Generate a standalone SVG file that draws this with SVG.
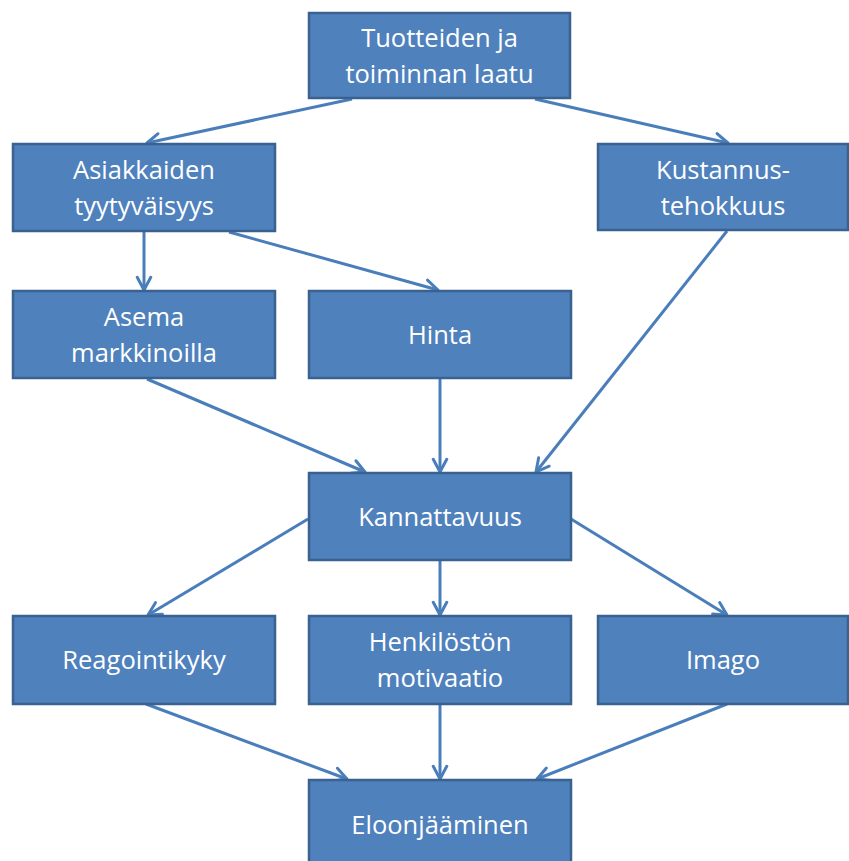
<svg xmlns="http://www.w3.org/2000/svg" width="849" height="861" viewBox="0 0 849 861">
  <style>
    .box rect { fill: #4F81BD; stroke: #3A6291; stroke-width: 2.5; }
    .box text { fill: #FFFFFF; font-family: "Open Sans", "Liberation Sans", sans-serif; font-size: 25.5px; text-anchor: middle; }
    .edge { stroke: #4A7EBB; stroke-width: 3; fill: none; marker-end: url(#arrow); }
  </style>
  <defs>
    <marker id="arrow" viewBox="0 0 12 12" refX="10.5" refY="6" markerWidth="6" markerHeight="6" markerUnits="strokeWidth" orient="auto">
      <polyline points="2,1.5 10.5,6 2,10.5" fill="none" stroke="#4A7EBB" stroke-width="2" stroke-linecap="round" stroke-linejoin="round"/>
    </marker>
  </defs>
  <rect width="849" height="861" fill="#FFFFFF"/>

  <g id="connectors">
    <line class="edge" x1="352" y1="99" x2="147" y2="143"/>
    <line class="edge" x1="535" y1="99" x2="728" y2="143"/>
    <line class="edge" x1="144" y1="232" x2="144" y2="290"/>
    <line class="edge" x1="229" y1="232" x2="438" y2="290"/>
    <line class="edge" x1="727" y1="231" x2="536" y2="472"/>
    <line class="edge" x1="147" y1="379" x2="365" y2="472"/>
    <line class="edge" x1="440" y1="379" x2="440" y2="472"/>
    <line class="edge" x1="308" y1="519" x2="148" y2="615"/>
    <line class="edge" x1="440" y1="561" x2="440" y2="615"/>
    <line class="edge" x1="571" y1="519" x2="727" y2="615"/>
    <line class="edge" x1="146" y1="704" x2="347" y2="779"/>
    <line class="edge" x1="440" y1="704" x2="440" y2="779"/>
    <line class="edge" x1="727" y1="704" x2="537" y2="779"/>
  </g>

  <g id="laatu" class="box">
    <rect x="309" y="13" width="261" height="85"/>
    <text x="439.5" y="47">Tuotteiden ja</text>
    <text x="439.5" y="83">toiminnan laatu</text>
  </g>
  <g id="tyytyvaisyys" class="box">
    <rect x="13" y="144" width="262" height="87"/>
    <text x="144" y="179">Asiakkaiden</text>
    <text x="144" y="215">tyytyväisyys</text>
  </g>
  <g id="kustannustehokkuus" class="box">
    <rect x="598" y="144" width="250" height="86"/>
    <text x="723" y="179">Kustannus-</text>
    <text x="723" y="215">tehokkuus</text>
  </g>
  <g id="asema" class="box">
    <rect x="13" y="291" width="262" height="87"/>
    <text x="144" y="326">Asema</text>
    <text x="144" y="362">markkinoilla</text>
  </g>
  <g id="hinta" class="box">
    <rect x="309" y="291" width="262" height="87"/>
    <text x="440" y="344">Hinta</text>
  </g>
  <g id="kannattavuus" class="box">
    <rect x="309" y="473" width="262" height="87"/>
    <text x="440" y="526">Kannattavuus</text>
  </g>
  <g id="reagointikyky" class="box">
    <rect x="13" y="616" width="262" height="88"/>
    <text x="144" y="669">Reagointikyky</text>
  </g>
  <g id="motivaatio" class="box">
    <rect x="309" y="616" width="262" height="88"/>
    <text x="440" y="651">Henkilöstön</text>
    <text x="440" y="687">motivaatio</text>
  </g>
  <g id="imago" class="box">
    <rect x="598" y="616" width="250" height="88"/>
    <text x="723" y="669">Imago</text>
  </g>
  <g id="eloonjaaminen" class="box">
    <rect x="309" y="780" width="262" height="90"/>
    <text x="440" y="834">Eloonjääminen</text>
  </g>
</svg>
